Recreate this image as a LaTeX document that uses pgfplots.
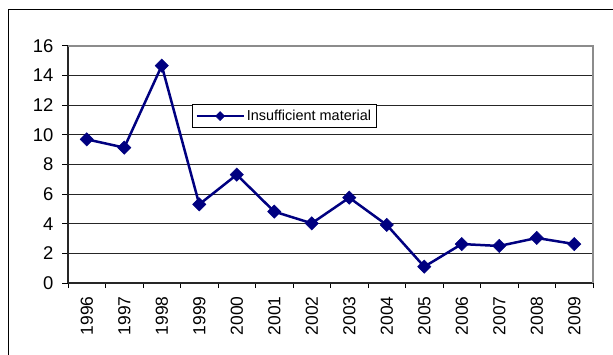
\documentclass[border=0pt]{standalone}
\usepackage{pgfplots}
\pgfplotsset{compat=1.18}
\usepackage{fontspec}
\setmainfont{Liberation Sans}
\definecolor{navy}{RGB}{0,0,128}
\definecolor{bordergray}{RGB}{140,140,140}
\begin{document}
\begin{tikzpicture}[x=1bp,y=1bp]
\path[use as bounding box] (0,0) rectangle (613,354);
\draw[line width=1.2bp] (8.5,-20) -- (8.5,344.5) -- (640,344.5);
\begin{axis}[
  at={(68bp,71bp)}, anchor=south west,
  scale only axis, width=525bp, height=237bp,
  xmin=0, xmax=14, ymin=0, ymax=16,
  axis x line*=bottom, axis y line*=left,
  axis line style={line width=1.6bp, black!85, -},
  ytick={0,2,...,16},
  xtick={0.5,1.5,...,13.5},
  xticklabels={1996,1997,1998,1999,2000,2001,2002,2003,2004,2005,2006,2007,2008,2009},
  minor xtick={0,1,...,14},
  major x tick style={draw=none},
  tick align=outside,
  major tick length=6bp,
  minor tick length=5bp,
  every tick/.style={black, line width=1bp},
  minor tick style={black, line width=1bp},
  ymajorgrids,
  major grid style={black!85, line width=1bp},
  /pgf/number format/assume math mode=true,
  xticklabel shift=4bp,
  yticklabel shift=5bp,
  yticklabel style={font=\fontsize{18.5}{20}\selectfont},
  xticklabel style={rotate=90, anchor=east, font=\fontsize{17.5}{20}\selectfont},
  legend style={at={(0.236,0.755)}, anchor=north west, draw=black, line width=1bp,
    fill=white, font=\fontsize{14.5}{16}\selectfont, inner xsep=3bp, inner ysep=3.5bp,
    nodes={inner sep=2bp}},
  legend cell align=left,
  legend image code/.code={\draw[#1, mark repeat=2, mark phase=2, mark size=3.2bp] plot coordinates {(0bp,0bp) (23.5bp,0bp) (47bp,0bp)};},
  clip=false,
]
\addplot[navy, line width=2.5bp, mark=square*, mark size=4.7bp,
  mark options={solid, rotate=45, line width=0.5bp}]
  coordinates {
  (0.5,9.70) (1.5,9.14) (2.5,14.67) (3.5,5.31) (4.5,7.31) (5.5,4.82) (6.5,4.03)
  (7.5,5.76) (8.5,3.92) (9.5,1.10) (10.5,2.63) (11.5,2.50) (12.5,3.04) (13.5,2.63)
  };
\addlegendentry{Insufficient material}
\draw[bordergray, line width=2bp] (rel axis cs:0,1) -- (rel axis cs:1,1) -- (rel axis cs:1,0);
\end{axis}
\end{tikzpicture}
\end{document}
